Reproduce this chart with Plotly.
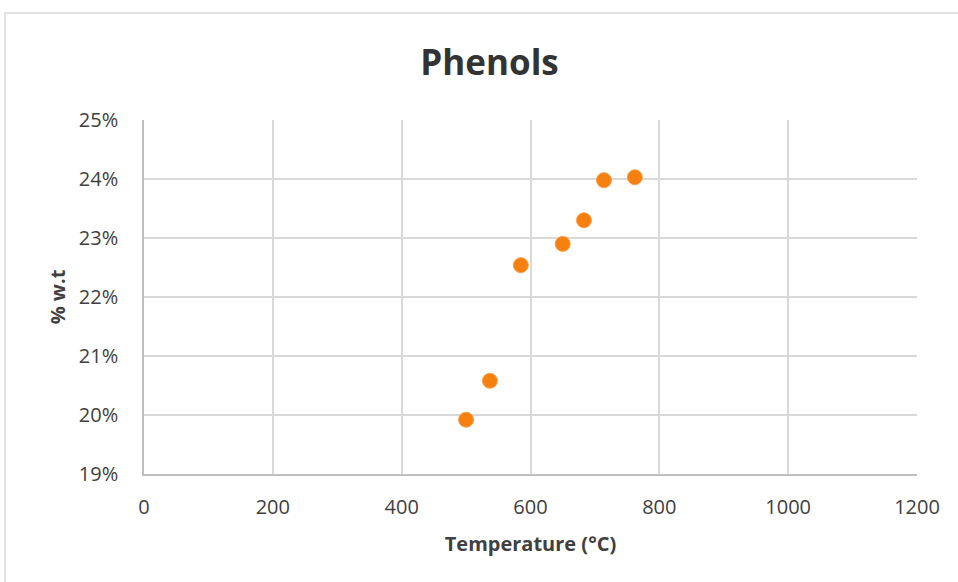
import plotly.graph_objects as go

temperature = [500, 537, 585, 650, 683, 714, 762]
phenols_pct = [0.1992, 0.2058, 0.2254, 0.2290, 0.2330, 0.2398, 0.2403]

x_ticks = [0, 200, 400, 600, 800, 1000, 1200]
y_ticks = [0.19, 0.20, 0.21, 0.22, 0.23, 0.24, 0.25]
y_tick_labels = ["19%", "20%", "21%", "22%", "23%", "24%", "25%"]

FONT = "Open Sans, Arial, sans-serif"

fig = go.Figure()
fig.add_trace(go.Scatter(
    x=temperature, y=phenols_pct, mode="markers",
    marker=dict(size=15, color="#f5800f", line=dict(color="#f9a04a", width=1)),
    showlegend=False,
))

fig.update_layout(
    width=958, height=582,
    margin=dict(l=144, r=41, t=120, b=108),
    paper_bgcolor="white", plot_bgcolor="white",
    title=dict(text="<b>Phenols</b>", x=0.511, xanchor="center", y=0.893, yanchor="middle",
               font=dict(family=FONT, size=35, color="#333333")),
    font=dict(family=FONT, color="#404040"),
    xaxis=dict(range=[0, 1200], tickvals=x_ticks, ticks="", showline=True,
               linecolor="#bfbfbf", linewidth=1.5, showgrid=True, gridcolor="#d9d9d9", gridwidth=1.5,
               tickfont=dict(size=20, color="#404040"), zeroline=False, ticklabelstandoff=14,
               title=dict(text="<b>Temperature (°C)</b>", font=dict(size=20, color="#404040"), standoff=18)),
    yaxis=dict(range=[0.19, 0.25], tickvals=y_ticks, ticktext=y_tick_labels, ticks="",
               showline=True, linecolor="#bfbfbf", linewidth=1.5, showgrid=True,
               gridcolor="#d9d9d9", gridwidth=1.5, zeroline=False,
               tickfont=dict(size=20, color="#404040"), ticklabelstandoff=20,
               title=dict(text="<b>% w.t</b>", font=dict(size=20, color="#404040"), standoff=8)),
    shapes=[dict(type="rect", xref="paper", yref="paper", x0=-0.1798, y0=-0.6, x1=1.2, y1=1.302,
                 line=dict(color="#d9d9d9", width=1.5), fillcolor="rgba(0,0,0,0)", layer="below")],
)

fig.write_html("out.html", config={"displayModeBar": False},
               post_script="document.body.style.margin='0px';")
